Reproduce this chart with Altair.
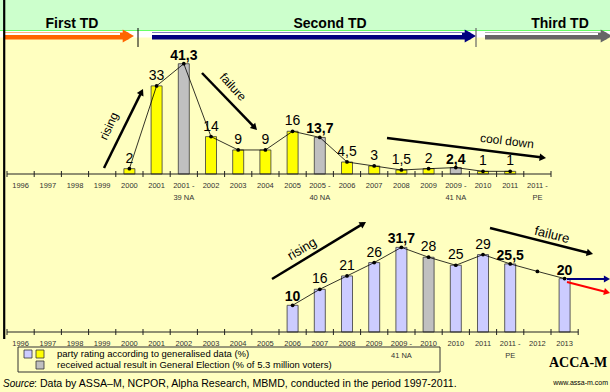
import math
import altair as alt
import pandas as pd

# ---------------- data ----------------
upper_labels = ["1996", "1997", "1998", "1999", "2000", "2001", "2001 -|39 NA", "2002", "2003",
                "2004", "2005", "2005 -|40 NA", "2006", "2007", "2008", "2009", "2009 -|41 NA",
                "2010", "2011", "2011 -|PE"]
upper_values = [None, None, None, None, 2, 33, 41.3, 14, 9, 9, 16, 13.7, 4.5, 3, 1.5, 2, 2.4,
                1, 1, None]
upper_kind = ["poll_u"] * 6 + ["result"] + ["poll_u"] * 4 + ["result"] + ["poll_u"] * 4 + \
             ["result"] + ["poll_u"] * 3

lower_labels = ["1996", "1997", "1998", "1999", "2000", "2001", "2002", "2003", "2004", "2005",
                "2006", "2007", "2008", "2009", "2009 -|41 NA", "2010", "2010", "2011",
                "2011 -|PE", "2012", "2013"]
lower_values = [None] * 10 + [10, 16, 21, 26, 31.7, 28, 25, 29, 25.5, None, 20]
lower_trend = [None] * 10 + [10, 16, 21, 26, 31.7, 28, 25, 29, 25.5, 22.7, 20]
lower_kind = ["poll_l"] * 15 + ["result"] + ["poll_l"] * 5

kind_domain = ["poll_u", "poll_l", "result"]
kind_colors = ["#FFFF00", "#CCCCFF", "#C0C0C0"]

# ---------------- layout ----------------
W, H = 610, 392
X0, STEP = 7, 27.2
NDOM = 22
K = 2.67
UP_BASE, LO_BASE = 174, 332
FONT = "Liberation Sans"
lower_bold_idx = [10, 14, 18, 20]


def fmt(v):
    if v is None or (isinstance(v, float) and math.isnan(v)):
        return ""
    s = ("%g" % v)
    return s.replace(".", ",")


x_scale = alt.Scale(domain=list(range(NDOM)), range=[X0, X0 + STEP * NDOM],
                    paddingInner=0, paddingOuter=0)
X = alt.X("i:O", scale=x_scale, axis=None)
Xstart = alt.X("i:O", scale=x_scale, axis=None, bandPosition=0)
color = alt.Color("kind:N", scale=alt.Scale(domain=kind_domain, range=kind_colors), legend=None)

ONE = alt.Data(values=[{"a": 1}])


def rule(x1, y1, x2, y2, c, w):
    return alt.Chart(ONE).mark_rule(color=c, strokeWidth=w).encode(
        x=alt.value(x1), y=alt.value(y1), x2=alt.value(x2), y2=alt.value(y2))


def rect(x1, y1, x2, y2, **kw):
    return alt.Chart(ONE).mark_rect(**kw).encode(
        x=alt.value(x1), y=alt.value(y1), x2=alt.value(x2), y2=alt.value(y2))


def txt(x, y, s, **kw):
    kw.setdefault("font", FONT)
    return alt.Chart(ONE).mark_text(text=s, **kw).encode(x=alt.value(x), y=alt.value(y))


def arrow(x1, y1, x2, y2, c, w, head=60):
    dx, dy = x2 - x1, y2 - y1
    L = math.hypot(dx, dy)
    ux, uy = dx / L, dy / L
    ang = math.degrees(math.atan2(ux, -uy)) % 360
    h = 0.433 * math.sqrt(head)
    cx, cy = x2 - ux * h, y2 - uy * h
    shaft = rule(x1, y1, cx, cy, c, w)
    tip = alt.Chart(ONE).mark_point(shape="triangle-up", filled=True, size=head, angle=ang,
                                    color=c, opacity=1, strokeWidth=0).encode(
        x=alt.value(cx), y=alt.value(cy))
    return [shaft, tip]


def panel(labels, values, trend, kinds, base, ymax, bold_idx, label_y):
    n = len(labels)
    df = pd.DataFrame({"i": list(range(n)), "label": labels,
                       "v": [float("nan") if v is None else v for v in values],
                       "tv": [float("nan") if v is None else v for v in trend],
                       "kind": kinds})
    df["t"] = [fmt(v) for v in values]
    df["bold"] = [i in bold_idx for i in range(n)]
    ys = alt.Scale(domain=[0, ymax], range=[base, base - ymax * K], nice=False, zero=True)
    Y = alt.Y("v:Q", scale=ys, axis=None)
    YT = alt.Y("tv:Q", scale=ys, axis=None)
    bars_df = df[df["v"].notna()]
    trend_df = df[df["tv"].notna()]
    bars = alt.Chart(bars_df).mark_bar(size=11, stroke="#3a3a3a", strokeWidth=0.8).encode(
        x=X, y=Y, color=color)
    line = alt.Chart(trend_df).mark_line(color="black", strokeWidth=0.8).encode(x=X, y=YT)
    pts = alt.Chart(trend_df).mark_circle(color="black", size=14, opacity=1).encode(x=X, y=YT)
    t_reg = alt.Chart(bars_df[~bars_df["bold"]]).mark_text(
        font=FONT, fontSize=14, baseline="alphabetic", dy=-6, color="black").encode(
        x=X, y=Y, text="t:N")
    t_bold = alt.Chart(bars_df[bars_df["bold"]]).mark_text(
        font=FONT, fontSize=14, fontWeight="bold", baseline="alphabetic", dy=-4,
        color="black").encode(x=X, y=Y, text="t:N")
    ticks_df = pd.DataFrame({"i": list(range(n + 1))})
    ticks = alt.Chart(ticks_df).mark_rule(color="#222", strokeWidth=1).encode(
        x=Xstart, y=alt.value(base - 3), y2=alt.value(base + 3))
    axis_line = rule(X0, base, X0 + STEP * n, base, "#222", 1.2)
    labs = alt.Chart(df).mark_text(font=FONT, fontSize=7.5, color="#333", baseline="top",
                                   lineBreak="|", lineHeight=12).encode(
        x=X, y=alt.value(label_y), text="label:N")
    return alt.layer(bars, line, pts, axis_line, ticks, labs, t_reg, t_bold)


upper_bold = [i for i, k in enumerate(upper_kind) if k == "result"]
upper = panel(upper_labels, upper_values, upper_values, upper_kind, UP_BASE, 45, upper_bold, 182)
lower = panel(lower_labels, lower_values, lower_trend, lower_kind, LO_BASE, 35, lower_bold_idx, 340)

# ---------------- header ----------------
header = [
    rect(0, 0, W, 30.5, color="#CCFFCC"),
    rect(0, 30.5, W, 37.5, color="#FFFFFF"),
    rule(0, 30.5, W, 30.5, "#66FF66", 1.2),
    txt(72, 28, "First TD", fontSize=14, fontWeight="bold", baseline="alphabetic"),
    txt(330, 28, "Second TD", fontSize=14, fontWeight="bold", baseline="alphabetic"),
    txt(560, 28, "Third TD", fontSize=14, fontWeight="bold", baseline="alphabetic"),
]
for (xa, xb, c) in [(5, 134, "#FF6600"), (152, 476, "#000080"), (485, 612, "#666666")]:
    header += arrow(xa, 36, xb, 36, c, 7, head=170)
    header.append(rule(xa, 34, xb - 14, 34, "#FFFFFF", 1.8))
header += [rule(138, 28, 138, 47, "#000000", 1), rule(476, 28, 476, 47, "#666666", 1.2)]

# ---------------- annotations ----------------
ann = []
ann += arrow(104, 168, 143, 89, "black", 2.5, head=55)
ann.append(txt(109, 126, "rising", fontSize=12, angle=295, baseline="middle"))
ann += arrow(202, 73, 257, 130, "black", 2.5, head=55)
ann.append(txt(233, 87, "failure", fontSize=12, angle=48, baseline="middle"))
ann += arrow(387, 138, 546, 158, "black", 2.5, head=55)
ann.append(txt(507, 141, "cool down", fontSize=12, angle=7, baseline="middle"))
ann += arrow(272, 279, 366, 222, "black", 2.5, head=55)
ann.append(txt(302, 249, "rising", fontSize=13, angle=329, baseline="middle"))
ann += arrow(490, 228, 593, 254, "black", 2.5, head=55)
ann.append(txt(552, 235, "failure", fontSize=13, angle=14, baseline="middle"))
ann += arrow(567, 279, 610, 279, "#000080", 2, head=50)
ann += arrow(567, 282, 610, 293, "#FF0000", 2, head=50)

# ---------------- footer ----------------
footer = [
    rule(4.2, 0, 4.2, 339, "#000000", 2.2),
    rect(18, 347, 440, 372, fillOpacity=0, stroke="#333333", strokeWidth=1),
    rect(24, 350, 32, 358, color="#CCCCFF", stroke="#333333", strokeWidth=0.8),
    rect(36, 350, 44, 358, color="#FFFF00", stroke="#333333", strokeWidth=0.8),
    rect(36, 361, 44, 369, color="#C0C0C0", stroke="#333333", strokeWidth=0.8),
    txt(57, 354, "party rating according to generalised data (%)", fontSize=9.5,
        align="left", baseline="middle"),
    txt(57, 365, "received actual result in General Election  (% of 5.3 million voters)",
        fontSize=9.5, align="left", baseline="middle"),
    txt(3, 384, "Source", fontSize=10, fontStyle="italic", align="left", baseline="middle"),
    txt(34, 384, ":  Data by ASSA\u2013M, NCPOR, Alpha Research, MBMD, conducted in the period 1997-2011.",
        fontSize=10.6, align="left", baseline="middle"),
    txt(549, 363, "ACCA-M", font="Liberation Serif", fontSize=14, fontWeight="bold",
        align="left", baseline="middle"),
    txt(608, 383, "www.assa-m.com", fontSize=7, align="right", baseline="middle"),
]

chart = alt.layer(*header, upper, lower, *ann, *footer).resolve_scale(
    y="independent").properties(
    width=W, height=H, autosize=alt.AutoSizeParams(type="none"), padding=0
).configure(background="#FFFFC0").configure_view(stroke=None)

chart.save("out.html", embed_options={"renderer": "svg", "actions": False})
